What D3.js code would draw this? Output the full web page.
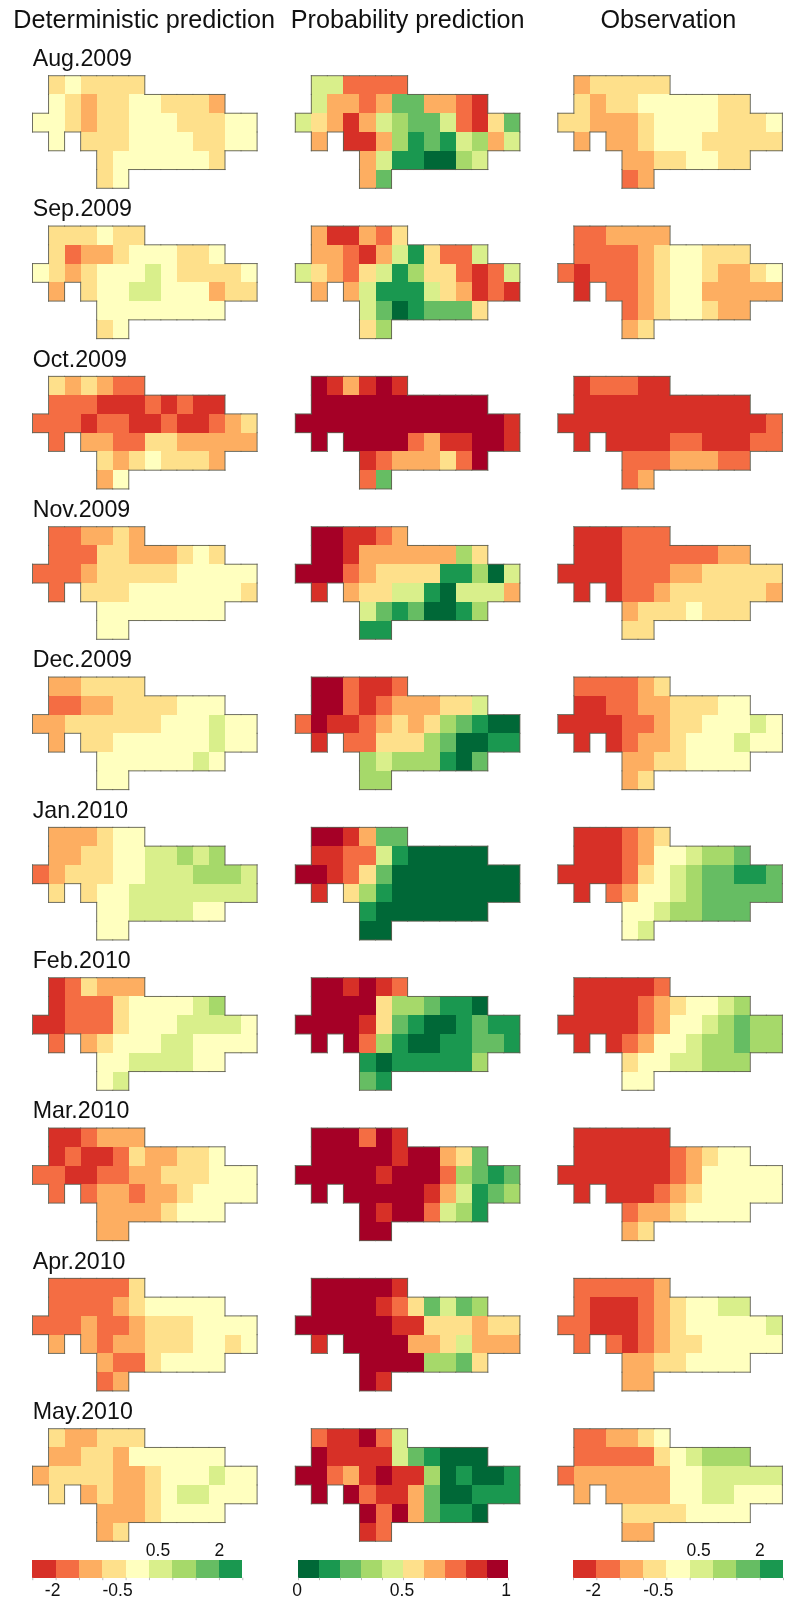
<!DOCTYPE html>
<html><head><meta charset="utf-8">
<script src="https://cdn.jsdelivr.net/npm/d3@7/dist/d3.min.js"></script>
<style>html,body{margin:0;padding:0;background:#fff}svg{display:block;filter:blur(0.4px)}text{font-family:"Liberation Sans",Arial,sans-serif;fill:#111}</style>
</head><body><script>
// Grid columns occupied by each of the six map rows
const rowColumns = [
  [1,2,3,4,5,6],
  [1,2,3,4,5,6,7,8,9,10,11],
  [0,1,2,3,4,5,6,7,8,9,10,11,12,13],
  [1,3,4,5,6,7,8,9,10,11,12,13],
  [4,5,6,7,8,9,10,11],
  [4,5]
];
const months = ["Aug.2009","Sep.2009","Oct.2009","Nov.2009","Dec.2009","Jan.2010","Feb.2010","Mar.2010","Apr.2010","May.2010"];
const panelTitles = ["Deterministic prediction","Probability prediction","Observation"];

// Anomaly class of each cell (0 = below -2 ... 8 = above 2), read row by row
const detAug2009 = [[3,4,3,3,3,3],[4,3,2,3,3,4,4,3,3,3,2],[4,4,3,2,3,3,4,4,4,3,3,3,4,4],[4,3,3,3,4,4,4,4,3,3,4,4],[3,4,4,4,4,4,4,3],[3,4]];
const detSep2009 = [[3,3,3,4,3,3],[3,1,2,2,3,4,4,4,3,3,4],[4,3,2,3,4,4,4,5,4,3,3,3,3,4],[2,3,4,4,5,5,4,4,4,2,3,3],[4,4,4,4,4,4,4,4],[3,4]];
const detOct2009 = [[3,2,3,2,1,1],[1,1,1,0,0,0,1,0,1,0,0],[1,1,1,0,1,1,0,0,1,0,0,1,2,3],[1,2,2,1,1,3,3,2,2,2,2,2],[3,2,3,4,3,3,3,2],[2,4]];
const detNov2009 = [[1,1,2,2,3,2],[1,1,1,3,3,2,2,2,3,4,3],[1,1,1,2,3,3,3,3,3,4,4,4,4,4],[1,3,3,3,4,4,4,4,4,4,4,3],[4,4,4,4,4,4,4,4],[4,4]];
const detDec2009 = [[2,2,3,3,3,3],[1,1,2,2,3,3,3,3,4,4,4],[2,2,3,3,3,3,3,3,4,4,4,5,4,4],[2,3,3,4,4,4,4,4,4,5,4,4],[4,4,4,4,4,4,5,4],[4,4]];
const detJan2010 = [[2,2,2,3,4,4],[2,2,3,3,4,4,5,5,6,5,6],[1,2,3,3,3,4,4,5,5,5,6,6,6,5],[3,3,4,4,5,5,5,5,5,5,5,5],[4,4,5,5,5,5,4,4],[4,4]];
const detFeb2010 = [[0,1,3,2,2,2],[0,1,1,1,3,4,4,4,4,5,6],[0,0,1,1,1,3,4,4,4,5,5,5,5,4],[1,2,3,4,4,4,5,5,4,4,4,4],[4,4,5,5,5,5,4,4],[4,5]];
const detMar2010 = [[0,0,1,2,2,2],[0,1,0,0,1,3,2,2,3,3,4],[1,1,0,0,1,1,2,2,3,3,3,4,4,4],[1,1,2,2,1,2,2,3,4,4,4,4],[2,2,2,2,3,4,4,4],[2,2]];
const detApr2010 = [[1,1,1,1,1,3],[1,1,1,1,2,3,4,4,4,4,4],[1,1,1,2,1,1,2,3,3,3,4,4,4,4],[2,2,1,2,2,3,3,3,4,4,3,4],[2,1,1,3,4,4,4,4],[1,2]];
const detMay2010 = [[3,2,2,3,3,3],[2,2,3,3,2,4,4,4,4,4,4],[2,3,3,3,3,2,2,3,4,4,4,5,4,4],[3,2,3,2,2,3,4,5,5,4,4,4],[2,2,2,3,4,4,4,4],[2,3]];

// Probability class of each cell (0 = 0-0.1 ... 9 = 0.9-1)
const probAug2009 = [[4,4,7,7,7,7],[4,6,6,7,6,2,2,6,6,7,8],[4,5,6,8,6,4,3,2,2,4,7,8,5,2],[6,8,8,6,3,1,2,1,4,3,6,4],[6,4,1,1,0,0,3,4],[6,2]];
const probSep2009 = [[6,8,8,6,7,5],[6,6,7,8,6,4,1,5,7,7,4],[4,5,6,7,5,4,1,3,5,5,7,8,7,4],[6,6,4,1,1,1,4,5,6,8,7,8],[4,2,0,1,2,2,2,5],[5,3]];
const probOct2009 = [[9,8,6,8,9,8],[9,9,9,9,9,9,9,9,9,9,9],[9,9,9,9,9,9,9,9,9,9,9,9,9,8],[9,9,9,9,9,7,6,8,8,9,9,8],[8,7,6,6,6,5,7,9],[7,2]];
const probNov2009 = [[9,9,8,8,7,6],[9,9,8,6,6,6,6,6,6,3,5],[9,9,9,7,6,5,5,5,5,1,1,3,0,4],[8,6,5,5,4,4,1,0,4,4,4,6],[4,2,1,2,0,0,1,3],[1,1]];
const probDec2009 = [[9,9,7,8,8,7],[9,9,7,8,7,6,6,6,5,5,4],[7,9,8,8,7,6,5,6,5,3,2,1,0,0],[8,7,7,5,5,5,3,2,0,0,1,1],[3,4,3,3,3,1,0,2],[3,3]];
const probJan2010 = [[9,9,8,6,2,2],[8,8,7,7,4,1,0,0,0,0,0],[9,9,8,7,5,2,0,0,0,0,0,0,0,0],[8,5,3,1,0,0,0,0,0,0,0,0],[1,0,0,0,0,0,0,0],[0,0]];
const probFeb2010 = [[9,9,8,9,8,7],[9,9,9,9,5,3,3,2,1,1,0],[9,9,9,9,8,5,2,1,0,0,1,2,1,1],[9,9,7,3,1,0,0,1,1,2,2,1],[1,0,1,1,1,1,1,3],[2,1]];
const probMar2010 = [[9,9,9,7,9,8],[9,9,9,9,9,8,9,9,6,5,2],[9,9,9,9,9,8,9,9,9,7,3,2,1,2],[9,9,9,9,9,9,8,6,4,1,2,3],[9,8,9,9,7,4,3,1],[9,9]];
const probApr2010 = [[9,9,9,9,9,8],[9,9,9,9,8,7,5,2,4,2,3],[9,9,9,9,9,9,8,8,5,5,5,6,5,5],[8,9,9,9,9,6,6,5,4,6,6,6],[9,9,9,9,3,3,2,5],[9,8]];
const probMay2010 = [[7,8,8,9,7,4],[9,8,8,8,8,4,2,1,0,0,0],[9,9,7,6,8,9,8,8,3,0,1,0,0,1],[9,9,7,8,8,6,2,0,0,1,1,1],[9,7,9,6,2,1,1,0],[8,7]];

// Observed anomaly class of each cell
const obsAug2009 = [[2,3,3,3,3,3],[3,2,3,3,4,4,4,4,4,3,3],[3,3,2,2,2,3,4,4,4,4,3,3,3,4],[2,2,2,3,4,4,4,3,3,3,3,3],[2,2,3,3,4,4,3,3],[1,2]];
const obsSep2009 = [[1,1,2,2,2,2],[1,1,1,1,2,3,4,4,3,3,3],[1,0,1,1,1,2,3,4,4,3,2,2,3,4],[0,1,1,2,3,4,4,2,2,2,2,2],[1,2,3,4,4,3,2,2],[2,3]];
const obsOct2009 = [[0,1,1,1,0,0],[0,0,0,0,0,0,0,0,0,0,0],[0,0,0,0,0,0,0,0,0,0,0,0,0,1],[0,0,0,0,0,1,1,0,0,0,1,1],[1,1,1,2,2,2,1,1],[1,2]];
const obsNov2009 = [[0,0,0,1,1,1],[0,0,0,1,1,1,1,1,1,2,2],[0,0,0,0,1,1,1,2,2,3,3,3,3,3],[0,0,1,1,2,3,3,3,3,3,3,2],[2,3,3,3,4,3,3,3],[3,3]];
const obsDec2009 = [[1,1,1,1,2,3],[0,0,1,1,2,2,3,3,3,4,4],[0,0,0,0,1,1,2,3,3,4,4,4,5,4],[0,0,1,2,2,3,4,4,4,5,4,4],[2,2,3,3,4,4,4,4],[2,3]];
const obsJan2010 = [[0,0,0,1,2,3],[0,0,0,1,2,4,4,5,6,6,7],[0,0,0,0,1,3,4,5,6,7,7,8,8,7],[0,1,2,4,4,5,6,7,7,7,7,7],[4,4,5,6,6,7,7,7],[4,5]];
const obsFeb2010 = [[0,0,0,0,0,1],[0,0,0,0,1,2,3,4,4,5,6],[0,0,0,0,0,1,2,4,4,5,6,7,6,6],[0,0,1,2,4,4,5,6,6,7,6,6],[3,4,4,5,5,6,6,6],[4,4]];
const obsMar2010 = [[0,0,0,0,0,0],[0,0,0,0,0,0,1,2,3,4,4],[0,0,0,0,0,0,0,1,2,4,4,4,4,4],[0,0,0,0,1,2,3,4,4,4,4,4],[1,2,2,3,4,4,4,4],[2,3]];
const obsApr2010 = [[1,1,1,1,1,2],[1,0,0,0,1,2,3,4,4,5,5],[1,1,0,0,0,1,2,3,4,4,4,4,4,5],[1,1,0,1,2,3,3,4,4,4,4,4],[2,2,3,3,4,4,4,4],[2,2]];
const obsMay2010 = [[1,1,2,2,3,4],[1,1,1,1,1,3,4,5,6,6,6],[1,2,2,2,2,2,2,4,4,5,5,5,5,5],[2,2,2,2,2,4,4,5,5,4,4,4],[3,3,3,3,4,4,4,4],[2,2]];

const detValues  = [detAug2009,detSep2009,detOct2009,detNov2009,detDec2009,detJan2010,detFeb2010,detMar2010,detApr2010,detMay2010];
const probValues = [probAug2009,probSep2009,probOct2009,probNov2009,probDec2009,probJan2010,probFeb2010,probMar2010,probApr2010,probMay2010];
const obsValues  = [obsAug2009,obsSep2009,obsOct2009,obsNov2009,obsDec2009,obsJan2010,obsFeb2010,obsMar2010,obsApr2010,obsMay2010];

const anomalyColors = ["#d73027","#f46d43","#fdae61","#fee08b","#ffffbf","#d9ef8b","#a6d96a","#66bd63","#1a9850"];
const probColors = ["#006837","#1a9850","#66bd63","#a6d96a","#d9ef8b","#fee08b","#fdae61","#f46d43","#d73027","#a50026"];
const anomalyBreaks = [-2.5,-2,-1.5,-1,-0.5,0.5,1,1.5,2,2.5];
const probBreaks = [0,0.1,0.2,0.3,0.4,0.5,0.6,0.7,0.8,0.9,1];

const W = 785, H = 1601;
const svg = d3.select("body").append("svg").attr("width",W).attr("height",H).attr("viewBox",`0 0 ${W} ${H}`);

const anomalyColor = d3.scaleOrdinal(d3.range(anomalyColors.length), anomalyColors);
const probColor = d3.scaleOrdinal(d3.range(probColors.length), probColors);

const panelLeft = [32.5, 295.3, 557.8];
const mapWidth = 224.6, mapHeight = 112.6;
const x = d3.scaleBand().domain(d3.range(14)).range([0,mapWidth]);
const y = d3.scaleBand().domain(d3.range(6)).range([0,mapHeight]);
const rowTop = d3.scalePoint().domain(months).range([75.7,1428.7]);

const occupied = new Set();
rowColumns.forEach((cols,r)=>cols.forEach(c=>occupied.add(r+"_"+c)));
const outline = d3.path();
rowColumns.forEach((cols,r)=>cols.forEach(c=>{
  const x0=x(c), x1=x0+x.bandwidth(), y0=y(r), y1=y0+y.bandwidth();
  const seg=(a,b,e,f)=>{outline.moveTo(a,b);outline.lineTo(e,f);};
  if(!occupied.has((r-1)+"_"+c)) seg(x0,y0,x1,y0);
  if(!occupied.has((r+1)+"_"+c)) seg(x0,y1,x1,y1);
  if(!occupied.has(r+"_"+(c-1))) seg(x0,y0,x0,y1);
  if(!occupied.has(r+"_"+(c+1))) seg(x1,y0,x1,y1);
}));

function drawMap(values,color,left,top){
  const cells = rowColumns.flatMap((cols,r)=>cols.map((c,i)=>({r,c,v:values[r][i]})));
  const g = svg.append("g").attr("transform",`translate(${left},${top})`);
  g.selectAll("rect").data(cells).join("rect")
    .attr("x",d=>x(d.c)).attr("y",d=>y(d.r))
    .attr("width",x.bandwidth()).attr("height",y.bandwidth())
    .attr("shape-rendering","crispEdges")
    .attr("fill",d=>color(d.v));
  g.append("path").attr("d",outline.toString()).attr("fill","none")
    .attr("stroke","#5f5f50").attr("stroke-width",0.9).attr("stroke-linecap","square");
}

months.forEach((m,i)=>{
  const top = rowTop(m);
  svg.append("text").attr("x",32.7).attr("y",top-9.7).attr("font-size",23.2).text(m);
  drawMap(detValues[i],anomalyColor,panelLeft[0],top);
  drawMap(probValues[i],probColor,panelLeft[1],top);
  drawMap(obsValues[i],anomalyColor,panelLeft[2],top);
});

// column headers
const headerX = [13.3,290.7,600.5];
panelTitles.forEach((t,i)=>svg.append("text").attr("x",headerX[i]).attr("y",28)
  .attr("font-size",25.2).text(t));

// colour bars
function colorBar(left,right,breaks,colors,labels){
  const sx = d3.scalePoint().domain(breaks).range([left,right]);
  const g = svg.append("g");
  g.selectAll("rect").data(colors).join("rect")
    .attr("x",(d,i)=>sx(breaks[i])).attr("y",1559.5)
    .attr("width",(d,i)=>sx(breaks[i+1])-sx(breaks[i])).attr("height",18.2)
    .attr("shape-rendering","crispEdges").attr("fill",d=>d);
  const axis = d3.axisBottom(sx).tickSize(2.5).tickFormat("");
  const ax = g.append("g").attr("transform","translate(0,1577.7)").call(axis);
  ax.select(".domain").remove();
  ax.selectAll("line").attr("stroke","#bbb");
  labels.forEach(l=>g.append("text").attr("x",sx(l.v)+l.dx).attr("y",l.y)
    .attr("text-anchor","middle").attr("font-size",17.5).text(l.t));
}
const anomalyLabels = [
  {v:-2,t:"-2",dx:-3,y:1595.7},{v:-0.5,t:"-0.5",dx:-8,y:1595.7},
  {v:0.5,t:"0.5",dx:9,y:1556},{v:2,t:"2",dx:0.3,y:1556}];
colorBar(32.3,242.3,anomalyBreaks,anomalyColors,anomalyLabels);
colorBar(298,508,probBreaks,probColors,[{v:0,t:"0",dx:-1,y:1595.7},{v:0.5,t:"0.5",dx:-1,y:1595.7},{v:1,t:"1",dx:-2,y:1595.7}]);
colorBar(573,783,anomalyBreaks,anomalyColors,anomalyLabels);
</script></body></html>
